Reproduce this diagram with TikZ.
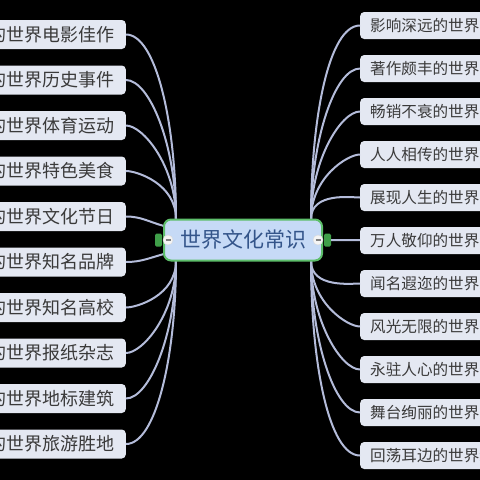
\documentclass[tikz,border=0pt]{standalone}
\usepackage{fontspec}
\setmainfont{Noto Sans CJK SC}
\usepackage{tikz}

\definecolor{boxfill}{HTML}{E4E8F2}
\definecolor{boxtext}{HTML}{3A3A3A}
\definecolor{linkcol}{HTML}{B4BCDA}
\definecolor{topicfill}{HTML}{C6DAF6}
\definecolor{topicline}{HTML}{5DBE6A}
\definecolor{topictext}{HTML}{34558A}
\definecolor{tabgreen}{HTML}{3F9F49}

\begin{document}
\begin{tikzpicture}[x=1pt,y=1pt,
  lbox/.style={anchor=east,fill=boxfill,text=boxtext,rounded corners=4pt,minimum height=29pt,inner xsep=11pt,inner ysep=0pt,font=\fontsize{18}{18}\selectfont},
  rbox/.style={anchor=west,fill=boxfill,text=boxtext,rounded corners=4pt,minimum height=27pt,inner xsep=10pt,inner ysep=0pt,font=\fontsize{15.6}{15.6}\selectfont},
  topic/.style={fill=topicfill,draw=topicline,line width=2pt,rounded corners=7pt,minimum width=158pt,minimum height=41pt,text=topictext,font=\fontsize{21}{21}\selectfont},
  tab/.style={fill=tabgreen,minimum width=7pt,minimum height=13pt,inner sep=0pt,rounded corners=1.5pt},
  dot/.style={circle,fill=white!92!gray,draw=white!70!gray,minimum size=10pt,inner sep=0pt},
  link/.style={draw=linkcol,line width=2pt}]
\useasboundingbox (0,0) rectangle (480,-480);
\fill[black] (0,0) rectangle (480,-480);
\clip (0,0) rectangle (480,-480);

\node[lbox] (l1) at (126,-34.5){的世界电影佳作};
\node[lbox] (l2) at (126,-80){的世界历史事件};
\node[lbox] (l3) at (126,-125.5){的世界体育运动};
\node[lbox] (l4) at (126,-171){的世界特色美食};
\node[lbox] (l5) at (126,-216.5){的世界文化节日};
\node[lbox] (l6) at (126,-262){的世界知名品牌};
\node[lbox] (l7) at (126,-307.5){的世界知名高校};
\node[lbox] (l8) at (126,-353){的世界报纸杂志};
\node[lbox] (l9) at (126,-398.5){的世界地标建筑};
\node[lbox] (l10) at (126,-444){的世界旅游胜地};

\node[rbox] (r1) at (360,-25.5){影响深远的世界};
\node[rbox] (r2) at (360,-68.5){著作颇丰的世界};
\node[rbox] (r3) at (360,-111.5){畅销不衰的世界};
\node[rbox] (r4) at (360,-154.5){人人相传的世界};
\node[rbox] (r5) at (360,-197.5){展现人生的世界};
\node[rbox] (r6) at (360,-240.5){万人敬仰的世界};
\node[rbox] (r7) at (360,-283.5){闻名遐迩的世界};
\node[rbox] (r8) at (360,-326.5){风光无限的世界};
\node[rbox] (r9) at (360,-369.5){永驻人心的世界};
\node[rbox] (r10) at (360,-412.5){舞台绚丽的世界};
\node[rbox] (r11) at (360,-455.5){回荡耳边的世界经};

\coordinate (lt) at (176,-219);
\coordinate (lb) at (176,-261);
\coordinate (lm1) at (164,-226);
\coordinate (lm2) at (164,-254);
\coordinate (rt) at (311,-219);
\coordinate (rb) at (311,-261);

\foreach \b in {l1,l2,l3,l4}
\draw[link] (\b.east) to[out=0,in=90,out looseness=0.4,in looseness=1.3] (lt);
\foreach \b in {l7,l8,l9,l10}
\draw[link] (\b.east) to[out=0,in=-90,out looseness=0.4,in looseness=1.3] (lb);
\draw[link] (l5.east) to[out=0,in=165] (lm1);
\draw[link] (l6.east) to[out=0,in=195] (lm2);

\foreach \b in {r1,r2,r3,r4,r5}
\draw[link] (\b.west) to[out=180,in=90,out looseness=0.4,in looseness=1.3] (rt);
\foreach \b in {r7,r8,r9,r10,r11}
\draw[link] (\b.west) to[out=180,in=-90,out looseness=0.4,in looseness=1.3] (rb);

\node[tab] (tabL) at (158.5,-240){};
\node[tab] (tabR) at (327.5,-240){};
\draw[link] (tabR) -- (r6);

\node[topic] (topic) at (243,-240){世界文化常识};

\node[dot] (dotL) at (168,-240){\color{gray}\rule{5pt}{1.2pt}};
\node[dot] (dotR) at (318,-240){\color{gray}\rule{5pt}{1.2pt}};

\end{tikzpicture}
\end{document}
